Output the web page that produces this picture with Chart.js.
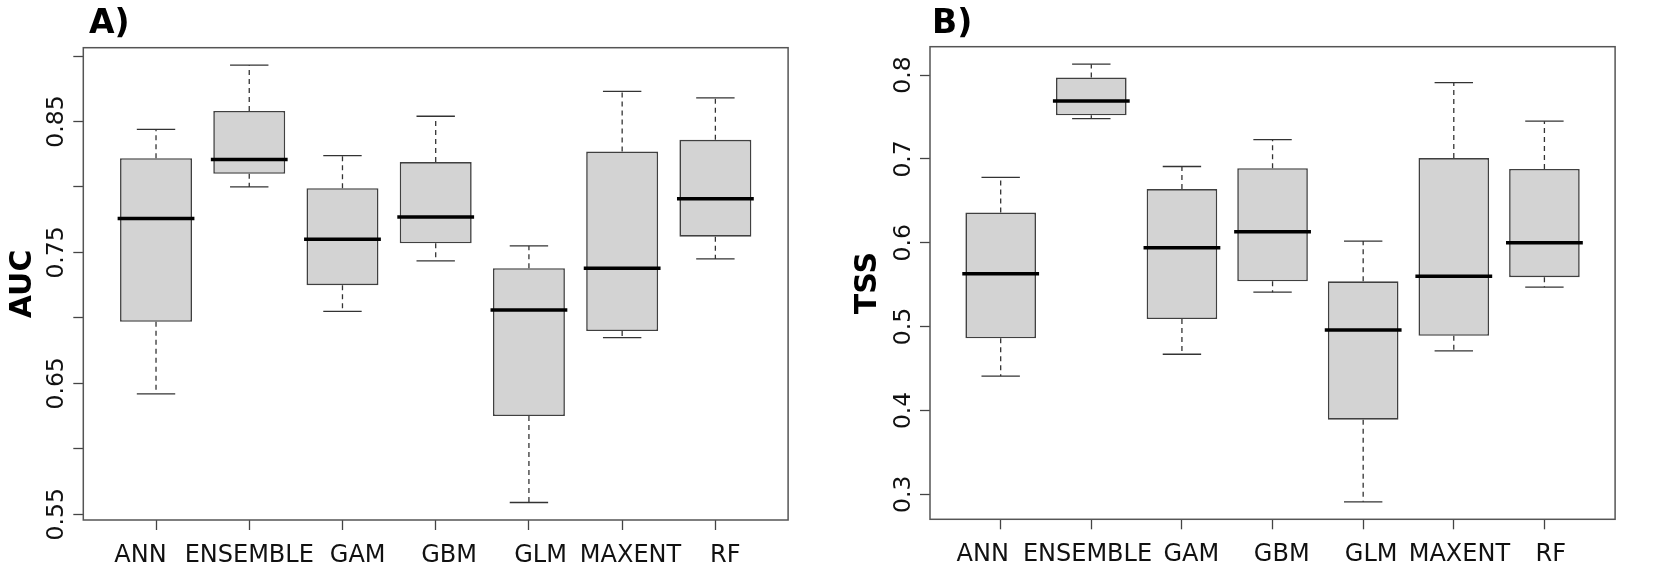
<!DOCTYPE html>
<html><head><meta charset="utf-8">
<script src="https://cdn.jsdelivr.net/npm/chart.js@4.4.1/dist/chart.umd.min.js"></script>
<style>
html,body{margin:0;padding:0;background:#fff;width:1657px;height:571px;overflow:hidden}
canvas{position:absolute;top:0}
#cA{left:0}
#cB{left:830px}
</style></head><body>
<canvas id="cA" width="830" height="571"></canvas>
<canvas id="cB" width="827" height="571"></canvas>
<script>
// ---- data ----
const categories = ['ANN','ENSEMBLE','GAM','GBM','GLM','MAXENT','RF'];

const aucLower  = [0.642, 0.800, 0.705, 0.7435, 0.559, 0.685, 0.745];
const aucQ1     = [0.697, 0.810, 0.725, 0.757, 0.625, 0.690, 0.762];
const aucMedian = [0.776, 0.821, 0.760, 0.777, 0.706, 0.738, 0.791];
const aucQ3     = [0.822, 0.858, 0.799, 0.819, 0.738, 0.827, 0.836];
const aucUpper  = [0.844, 0.893, 0.824, 0.854, 0.755, 0.873, 0.868];

const tssLower  = [0.441, 0.748, 0.467, 0.541, 0.291, 0.471, 0.547];
const tssQ1     = [0.486, 0.752, 0.509, 0.554, 0.389, 0.489, 0.559];
const tssMedian = [0.563, 0.769, 0.594, 0.613, 0.496, 0.560, 0.600];
const tssQ3     = [0.636, 0.797, 0.664, 0.689, 0.554, 0.701, 0.688];
const tssUpper  = [0.678, 0.813, 0.691, 0.723, 0.602, 0.791, 0.745];

const aucTicks = [0.55, 0.60, 0.65, 0.70, 0.75, 0.80, 0.85, 0.90];
const aucTickLabels = ['0.55', '0.65', '0.75', '0.85'];
const tssTicks = [0.3, 0.4, 0.5, 0.6, 0.7, 0.8];
const tssTickLabels = ['0.3', '0.4', '0.5', '0.6', '0.7', '0.8'];

// label placement of the category names, relative to each tick (category units)
const labelShiftA = [-0.167, 0, 0.163, 0.143, 0.125, 0.09, 0.107];
const labelShiftB = [-0.198, -0.042, 0.103, 0.101, 0.088, 0.062, 0.07];

// ---- drawing ----
const FONT = '"DejaVu Sans", sans-serif';

const framePlugin = {
  id: 'frame',
  afterDraw(chart, args, opts) {
    const {ctx, chartArea: a, scales} = chart;
    ctx.save();
    ctx.strokeStyle = '#555';
    ctx.lineWidth = 1.5;
    ctx.strokeRect(a.left, a.top, a.right - a.left, a.bottom - a.top);
    // rotated y tick labels (R style, las = 0)
    ctx.fillStyle = '#111';
    ctx.font = '23.5px ' + FONT;
    ctx.textAlign = 'center';
    ctx.textBaseline = 'alphabetic';
    opts.labels.forEach(t => {
      const py = scales.y.getPixelForValue(parseFloat(t));
      ctx.save();
      ctx.translate(a.left - 20.5, py);
      ctx.rotate(-Math.PI / 2);
      ctx.fillText(t, 0, 0);
      ctx.restore();
    });
    // panel letter
    ctx.fillStyle = '#000';
    ctx.font = 'bold 33px ' + FONT;
    ctx.textAlign = 'left';
    ctx.fillText(opts.panel, a.left + opts.panelDx, 33);
    ctx.restore();
  }
};

function buildChart(id, s) {
  const n = categories.length;
  const all = s.lower.concat(s.upper);
  const dmin = Math.min(...all), dmax = Math.max(...all);
  const ext = 0.04 * (dmax - dmin);
  const boxes = categories.map((c, i) => ({x: i + 1, y: [s.q1[i], s.q3[i]]}));
  const medians = categories.map((c, i) => ({x: i + 1, y: s.median[i]}));
  const caps = [], whiskers = [];
  categories.forEach((c, i) => {
    caps.push({x: i + 1, y: s.lower[i]}, {x: i + 1, y: s.upper[i]});
    whiskers.push({x: i + 1, y: s.q3[i]}, {x: i + 1, y: s.upper[i]}, {x: i + 1, y: null},
                  {x: i + 1, y: s.q1[i]}, {x: i + 1, y: s.lower[i]}, {x: i + 1, y: null});
  });
  const gridY = {display: true, drawOnChartArea: false, drawTicks: true, tickLength: 10,
                 tickColor: '#444', tickWidth: 1.3, offset: false};
  const gridX = {display: true, drawOnChartArea: false, drawTicks: true, tickLength: 10,
                 tickWidth: 1.3, offset: false,
                 tickColor: ctx => (ctx.index < n ? '#444' : 'rgba(0,0,0,0)')};
  return new Chart(document.getElementById(id), {
    type: 'bar',
    data: {datasets: [
      {type: 'line', data: whiskers, borderColor: '#333', borderWidth: 1.3, borderDash: [5, 4],
       pointRadius: 0, spanGaps: false, fill: false, order: 4},
      {type: 'scatter', data: caps, pointStyle: 'line', pointRadius: 19.2,
       borderColor: '#333', pointBorderColor: '#333', borderWidth: 1.3, pointBorderWidth: 1.3, order: 3},
      {type: 'bar', data: boxes, backgroundColor: '#d3d3d3', borderColor: '#404040', borderWidth: 1.6,
       borderSkipped: false, barPercentage: 0.8, categoryPercentage: 1, order: 2},
      {type: 'scatter', data: medians, pointStyle: 'line', pointRadius: 38.4,
       borderColor: '#000', pointBorderColor: '#000', borderWidth: 3.5, pointBorderWidth: 3.5, order: 1}
    ]},
    options: {
      responsive: false, animation: false, events: [], devicePixelRatio: 1,
      layout: {padding: {left: 0, top: s.padTop, right: s.padRight, bottom: 0}},
      plugins: {
        legend: {display: false}, tooltip: {enabled: false},
        frame: {labels: s.tickLabels, panel: s.panel, panelDx: s.panelDx}
      },
      scales: {
        x: {type: 'linear', bounds: 'data', offset: false, min: 0.5 - 0.04 * n, max: n + 0.5 + 0.04 * n,
            afterBuildTicks: sc => {
              sc.ticks = categories.map((c, i) => ({value: i + 1}))
                .concat(categories.map((c, i) => ({value: i + 1 + s.shift[i]})));
            },
            afterFit: sc => { sc.height = s.xH; },
            grid: gridX, border: {display: false},
            ticks: {autoSkip: false, maxRotation: 0, minRotation: 0, padding: 11, color: '#111',
                    font: {family: FONT, size: 24},
                    callback: (v, idx) => (idx >= n ? categories[idx - n] : '')}},
        y: {type: 'linear', bounds: 'data', min: dmin - ext, max: dmax + ext,
            afterBuildTicks: sc => { sc.ticks = s.ticks.map(v => ({value: v})); },
            afterFit: sc => { sc.width = s.yW; },
            grid: gridY, border: {display: false},
            ticks: {display: false},
            title: {display: true, text: s.title, color: '#000',
                    font: {family: FONT, size: 30, weight: 'bold', lineHeight: 1},
                    padding: {top: s.titlePad, bottom: 0}}}
      }
    },
    plugins: [framePlugin]
  });
}

buildChart('cA', {lower: aucLower, q1: aucQ1, median: aucMedian, q3: aucQ3, upper: aucUpper,
  ticks: aucTicks, tickLabels: aucTickLabels, shift: labelShiftA, title: 'AUC', panel: 'A)', panelDx: 5.7,
  padTop: 47.7, padRight: 20.7, xH: 51, yW: 83.3, titlePad: 8.5});
buildChart('cB', {lower: tssLower, q1: tssQ1, median: tssMedian, q3: tssQ3, upper: tssUpper,
  ticks: tssTicks, tickLabels: tssTickLabels, shift: labelShiftB, title: 'TSS', panel: 'B)', panelDx: 2,
  padTop: 46.7, padRight: 1.2, xH: 51.7, yW: 100, titlePad: 23});
</script>
</body></html>
